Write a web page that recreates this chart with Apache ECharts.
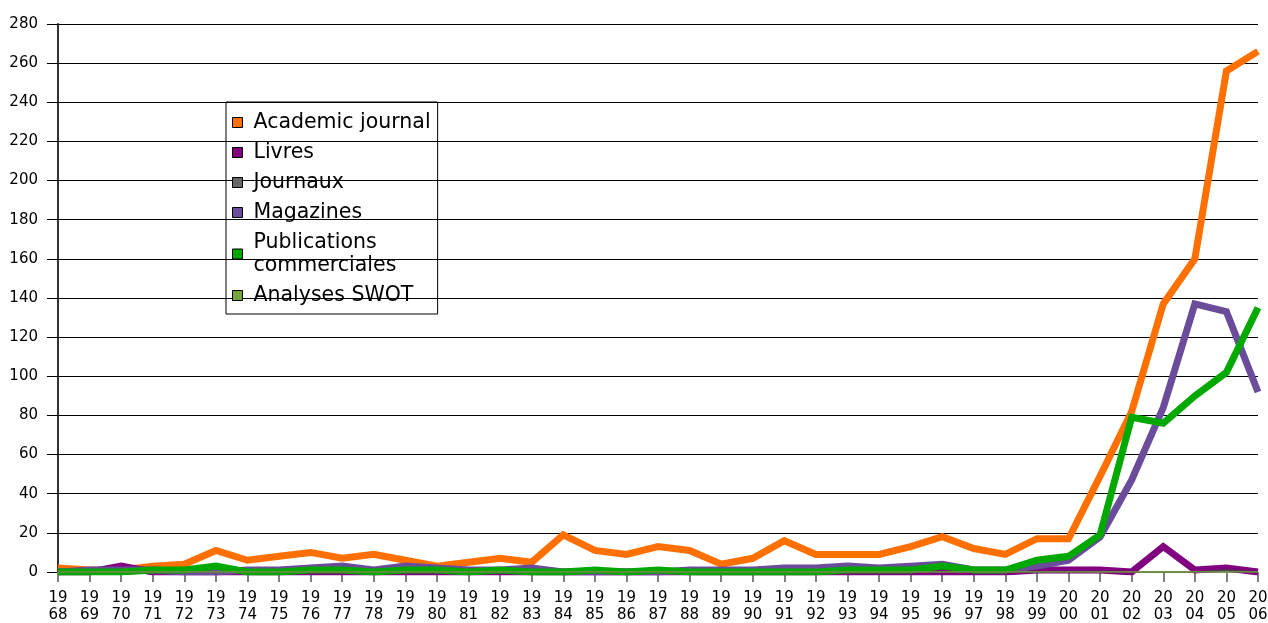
<!DOCTYPE html>
<html>
<head>
<meta charset="utf-8">
<script src="https://cdn.jsdelivr.net/npm/echarts@6/dist/echarts.min.js"></script>
<style>
  html, body { margin: 0; padding: 0; background: #fff; }
  #chart { width: 1268px; height: 623px; }
</style>
</head>
<body>
<div id="chart"></div>
<script>
// Publication counts per year by source type
const years = [1968,1969,1970,1971,1972,1973,1974,1975,1976,1977,1978,1979,1980,1981,1982,1983,1984,1985,1986,1987,1988,1989,1990,1991,1992,1993,1994,1995,1996,1997,1998,1999,2000,2001,2002,2003,2004,2005,2006];

const academicJournal = [2,1,1,3,4,11,6,8,10,7,9,6,3,5,7,5,19,11,9,13,11,4,7,16,9,9,9,13,18,12,9,17,17,49,82,137,160,256,266];
const livres          = [0,0,3,0,0,0,0,0,0,0,0,0,0,0,0,0,0,0,0,0,0,0,0,0,0,0,0,0,0,0,0,1,1,1,0,13,1,2,0];
const journaux        = [0,0,0,0,0,0,0,0,0,0,0,0,0,0,0,0,0,0,0,0,0,0,0,0,0,0,0,0,0,0,0,0,0,0,0,0,0,1,0];
const magazines       = [0,1,1,1,0,0,1,1,2,3,1,3,2,1,1,2,0,0,0,0,1,1,1,2,2,3,2,3,4,1,1,3,6,18,47,84,137,133,92];
const publicationsCom = [0,0,0,1,1,3,0,0,1,1,0,1,1,0,1,0,0,1,0,1,0,0,0,0,0,1,1,1,3,1,1,6,8,19,79,76,90,102,135];
const analysesSwot    = [0,0,0,0,0,0,0,0,0,0,0,0,0,0,0,0,0,0,0,0,0,0,0,0,0,0,0,0,0,0,0,0,0,0,0,0,0,0,0];

const yTicks = { min: 0, max: 280, step: 20 };

// z controls stacking: the two thin lines sit on top of the thick ones
const seriesDefs = [
  { name: 'Academic journal', data: academicJournal, color: '#ff7000', width: 7, z: 2 },
  { name: 'Livres', data: livres, color: '#800080', width: 7, z: 2 },
  { name: 'Journaux', data: journaux, color: '#444444', width: 1.5, z: 3 },
  { name: 'Magazines', data: magazines, color: '#6b4c9a', width: 7, z: 2 },
  { name: 'Publications\ncommerciales', data: publicationsCom, color: '#00a800', width: 7, z: 2 },
  { name: 'Analyses SWOT', data: analysesSwot, color: '#77a33f', width: 1.5, z: 4 }
];
const legendColors = { 'Journaux': '#666666' };

const font = 'DejaVu Sans';
const chart = echarts.init(document.getElementById('chart'), null, { renderer: 'canvas' });

chart.setOption({
  animation: false,
  backgroundColor: '#ffffff',
  textStyle: { fontFamily: font, color: '#000' },
  grid: { left: 58, right: 10, top: 24, bottom: 51, containLabel: false, outerBoundsMode: 'none' },
  legend: {
    orient: 'vertical',
    left: 226,
    top: 102,
    padding: [9, 7, 7, 6],
    itemGap: 7,
    itemWidth: 10,
    itemHeight: 10,
    icon: 'rect',
    borderColor: '#000',
    borderWidth: 1,
    itemStyle: { borderColor: '#000', borderWidth: 1 },
    textStyle: { fontFamily: font, fontSize: 20.5, lineHeight: 23, color: '#000', padding: [0, 0, 0, 6] },
    data: seriesDefs.map(s => ({
      name: s.name,
      itemStyle: { color: legendColors[s.name] || s.color, borderColor: '#000', borderWidth: 1 }
    }))
  },
  xAxis: {
    type: 'category',
    data: years,
    boundaryGap: false,
    axisLine: { show: true, lineStyle: { color: '#808080', width: 1 } },
    axisTick: { show: true, alignWithLabel: true, length: 10, lineStyle: { color: '#808080', width: 2 } },
    axisLabel: {
      interval: 0,
      margin: 18,
      fontFamily: font,
      fontSize: 15,
      lineHeight: 17,
      color: '#000',
      formatter: v => String(v).slice(0, 2) + '\n' + String(v).slice(2)
    },
    splitLine: { show: false }
  },
  yAxis: {
    type: 'value',
    min: yTicks.min,
    max: yTicks.max,
    interval: yTicks.step,
    axisLine: { show: true, lineStyle: { color: '#333333', width: 2 } },
    axisTick: { show: true, length: 11, lineStyle: { color: '#000', width: 1 } },
    axisLabel: { margin: 20, fontFamily: font, fontSize: 15, color: '#000' },
    splitLine: { show: true, lineStyle: { color: '#000', width: 1 } }
  },
  series: seriesDefs.map(s => ({
    name: s.name,
    type: 'line',
    z: s.z,
    data: s.data,
    showSymbol: false,
    symbol: 'none',
    smooth: false,
    itemStyle: { color: s.color },
    lineStyle: { color: s.color, width: s.width, join: 'miter' },
    emphasis: { disabled: true }
  }))
});
</script>
</body>
</html>
